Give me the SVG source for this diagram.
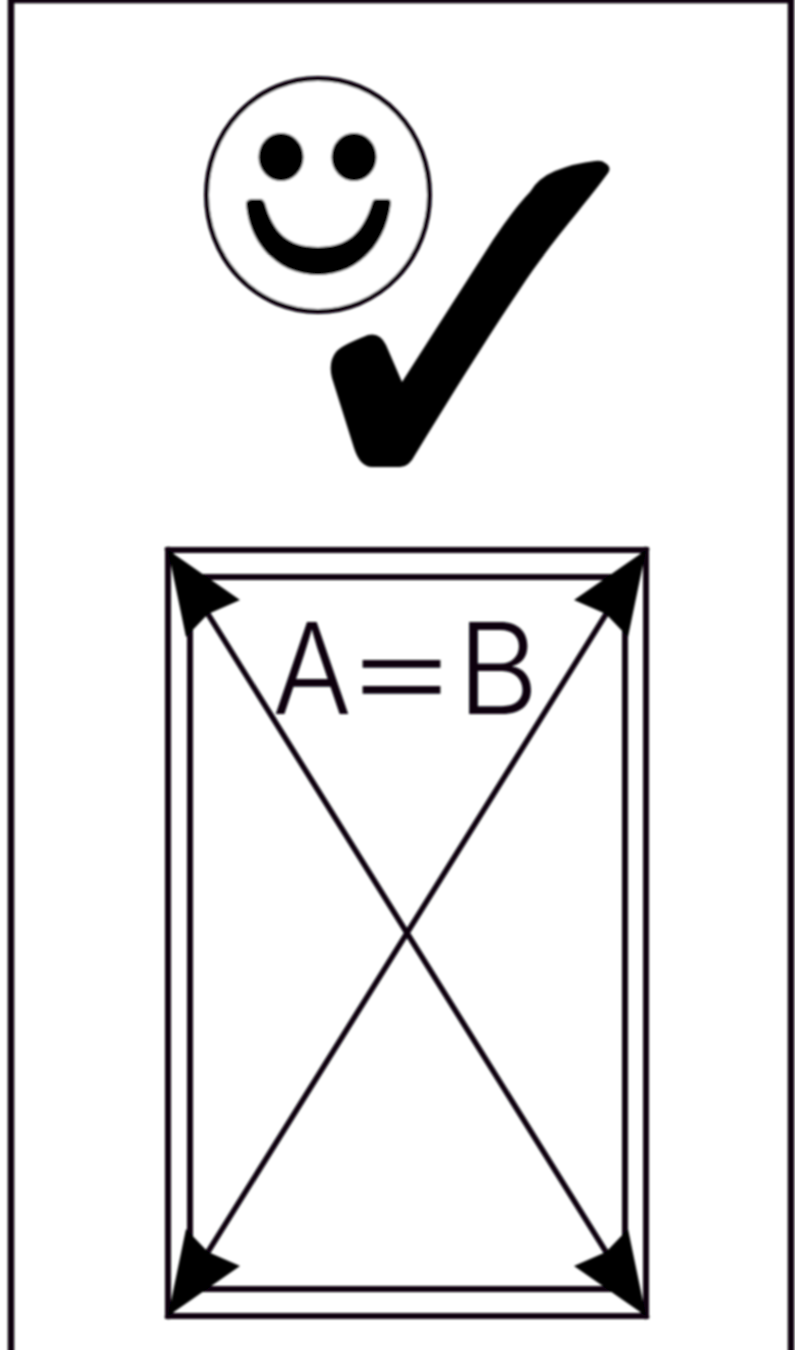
<svg xmlns="http://www.w3.org/2000/svg" width="795" height="1350" viewBox="0 0 795 1350">
  <style>
    .ln { fill: none; stroke: #08060f; stroke-linecap: square; }
    .head { fill: #000; stroke: none; }
    .lbl { font-family: "Inter", "Liberation Sans", sans-serif; font-weight: 270; font-size: 127px; fill: #08060f; }
  </style>
  <defs>
    <filter id="soft" x="-5%" y="-5%" width="110%" height="110%"><feGaussianBlur stdDeviation="0.8"/></filter>
    <path id="ah" d="M0 0L72 50L40 64L18 87Z"/>
  </defs>
  <rect width="795" height="1350" fill="#fff"/>
  <g filter="url(#soft)">
    <g id="frame"><path class="ln" stroke-width="6.500" d="M11 1360V0H791V1360"/></g>
    <g id="smiley">
      <ellipse cx="318" cy="195" rx="111.500" ry="116.500" fill="#fff" stroke="#08060f" stroke-width="5"/>
      <ellipse cx="281" cy="157" rx="22.500" ry="24" fill="#000"/>
      <ellipse cx="354" cy="157" rx="22.500" ry="24" fill="#000"/>
      <path fill="#000" d="M246 203Q247 199 253 199H260Q263 199 265 203C273 232 288 247 318 247C348 247 363 232 372 203Q373 199 377 199H387Q391 199 391 203C386 245 357 275 318 275C279 275 249 245 246 203Z"/>
    </g>
    <g id="check">
      <path fill="#000" d="M605 163Q612 167 608 173C590 198 560 232 533 270C495 325 455 390 415 455Q409 467 400 467H372Q360 467 354 448L332 378Q328 362 336 352Q340 346 368 335Q380 332 386 345L402 382L493 240C510 215 522 200 530 192Q538 178 555 171Q575 163 595 161Q602 160 605 163Z"/>
    </g>
    <g id="diagram">
      <rect class="ln" x="168" y="550" width="478" height="766" stroke-width="6"/>
      <rect class="ln" x="190" y="577" width="435" height="712" stroke-width="6"/>
      <text class="lbl" y="714"><tspan x="272.500" textLength="79" lengthAdjust="spacingAndGlyphs">A</tspan><tspan x="339" y="713" textLength="125" lengthAdjust="spacingAndGlyphs">=</tspan><tspan x="457" y="714" textLength="82" lengthAdjust="spacingAndGlyphs">B</tspan></text>
    </g>
    <g id="connectors">
      <path class="ln" stroke-width="5.500" stroke-linecap="butt" d="M168 550L646 1316M646 550L168 1316"/>
      <use class="head" href="#ah" transform="translate(168 550)"/>
      <use class="head" href="#ah" transform="translate(646 550) scale(-1 1)"/>
      <use class="head" href="#ah" transform="translate(168 1316) scale(1 -1)"/>
      <use class="head" href="#ah" transform="translate(646 1316) scale(-1 -1)"/>
    </g>
  </g>
</svg>
